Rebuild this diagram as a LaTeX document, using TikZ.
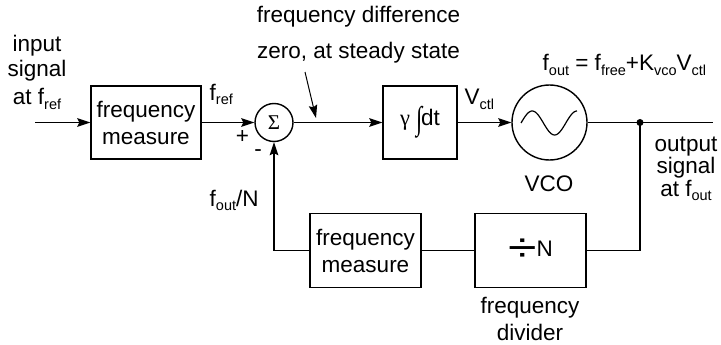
\documentclass[tikz,border=0pt]{standalone}
\usepackage{fontspec}
\setmainfont{Liberation Sans}
\newfontfamily\grk{Liberation Serif}
\usetikzlibrary{arrows.meta}
\newcommand\sbs[1]{\raisebox{-4.5pt}{\fontsize{14.5}{15}\selectfont #1}}
\begin{document}
\begin{tikzpicture}[x=1pt,y=-1pt, line width=1.4pt,
  every node/.style={font=\fontsize{22.5}{27}\selectfont, inner sep=0pt},
  blk/.style={draw, minimum width=110pt, minimum height=73pt, align=center},
  ring/.style={draw, circle},
  arr/.style={-{Stealth[length=13pt,width=8.5pt,inset=2pt]}},
  lbl/.style={anchor=base}]
\useasboundingbox (0,0) rectangle (721,345);
% main path blocks
\node[blk] (m1) at (146,122.5) {frequency\\measure};
\node[ring, minimum size=38pt] (sum) at (274,122.5) {\grk\fontsize{21}{21}\selectfont Σ};
\node[blk, minimum width=74pt] (int) at (420,122.5) {{\grk γ}\hspace{6pt}\raisebox{-4pt}{\scalebox{1}[1.45]{\grk ∫}}\hspace{-1pt}dt};
\node[ring, minimum size=75pt] (vco) at (549.5,122.5) {};
\draw[line width=1.2pt] plot[domain=0:450, samples=60] ({521+0.12444*\x},{123-12*sin(\x)});
\node[circle, fill, minimum size=7pt] (dot) at (640,122.5) {};
\coordinate (outend) at (713,122.5);
\coordinate (inbeg) at (35,122.5);
% feedback blocks
\node[blk, minimum width=111pt, minimum height=74pt] (m2) at (365.5,250.5) {frequency\\measure};
\node[blk, minimum width=111pt, minimum height=74pt] (div) at (530.5,250.5) {\raisebox{-5pt}{\scalebox{2.3}[1.8]{÷}}N};
% connectors
\draw[arr] (inbeg) -- (m1.west);
\draw[arr] (m1.east) -- (sum.west);
\draw[arr] (sum.east) -- (int.west);
\draw[arr] (int.east) -- (vco.west);
\draw (vco.east) -- (dot.center) -- (outend);
\draw (dot.center) |- (div.east);
\draw (div.west) -- (m2.east);
\draw[arr] (m2.west) -| (sum.south);
% pointer
\coordinate (ptail) at (305,72);
\coordinate (ptip) at (316,118);
\draw[arr, line width=1pt] (ptail) -- (ptip);
% labels
\node[anchor=base west] (fref) at (209,100) {f\sbs{ref}};
\node[anchor=base west] (vctl) at (464,105) {V\sbs{ctl}};
\node[anchor=base west] (foutN) at (209,206) {f\sbs{out}/N};
\node (plus) at (242.5,137.5) {+};
\node (minus) at (258,153) {-};
\node (vcol) at (549,184) {VCO};
\node[anchor=base west] (eq) at (542,71) {f\sbs{out} = f\sbs{free}+K\sbs{vco}V\sbs{ctl}};
\node[lbl] (t1) at (358.5,23) {frequency difference};
\node[lbl] (t2) at (358.5,59) {zero, at steady state};
\node[lbl] (in1) at (37,52) {input};
\node[lbl] (in2) at (37,77) {signal};
\node[lbl] (in3) at (37,105) {at f\sbs{ref}};
\node[lbl] (out1) at (686,151) {output};
\node[lbl] (out2) at (686,173) {signal};
\node[lbl] (out3) at (686,196) {at f\sbs{out}};
\node[lbl] (d1) at (530,313) {frequency};
\node[lbl] (d2) at (530,340) {divider};
\end{tikzpicture}
\end{document}
